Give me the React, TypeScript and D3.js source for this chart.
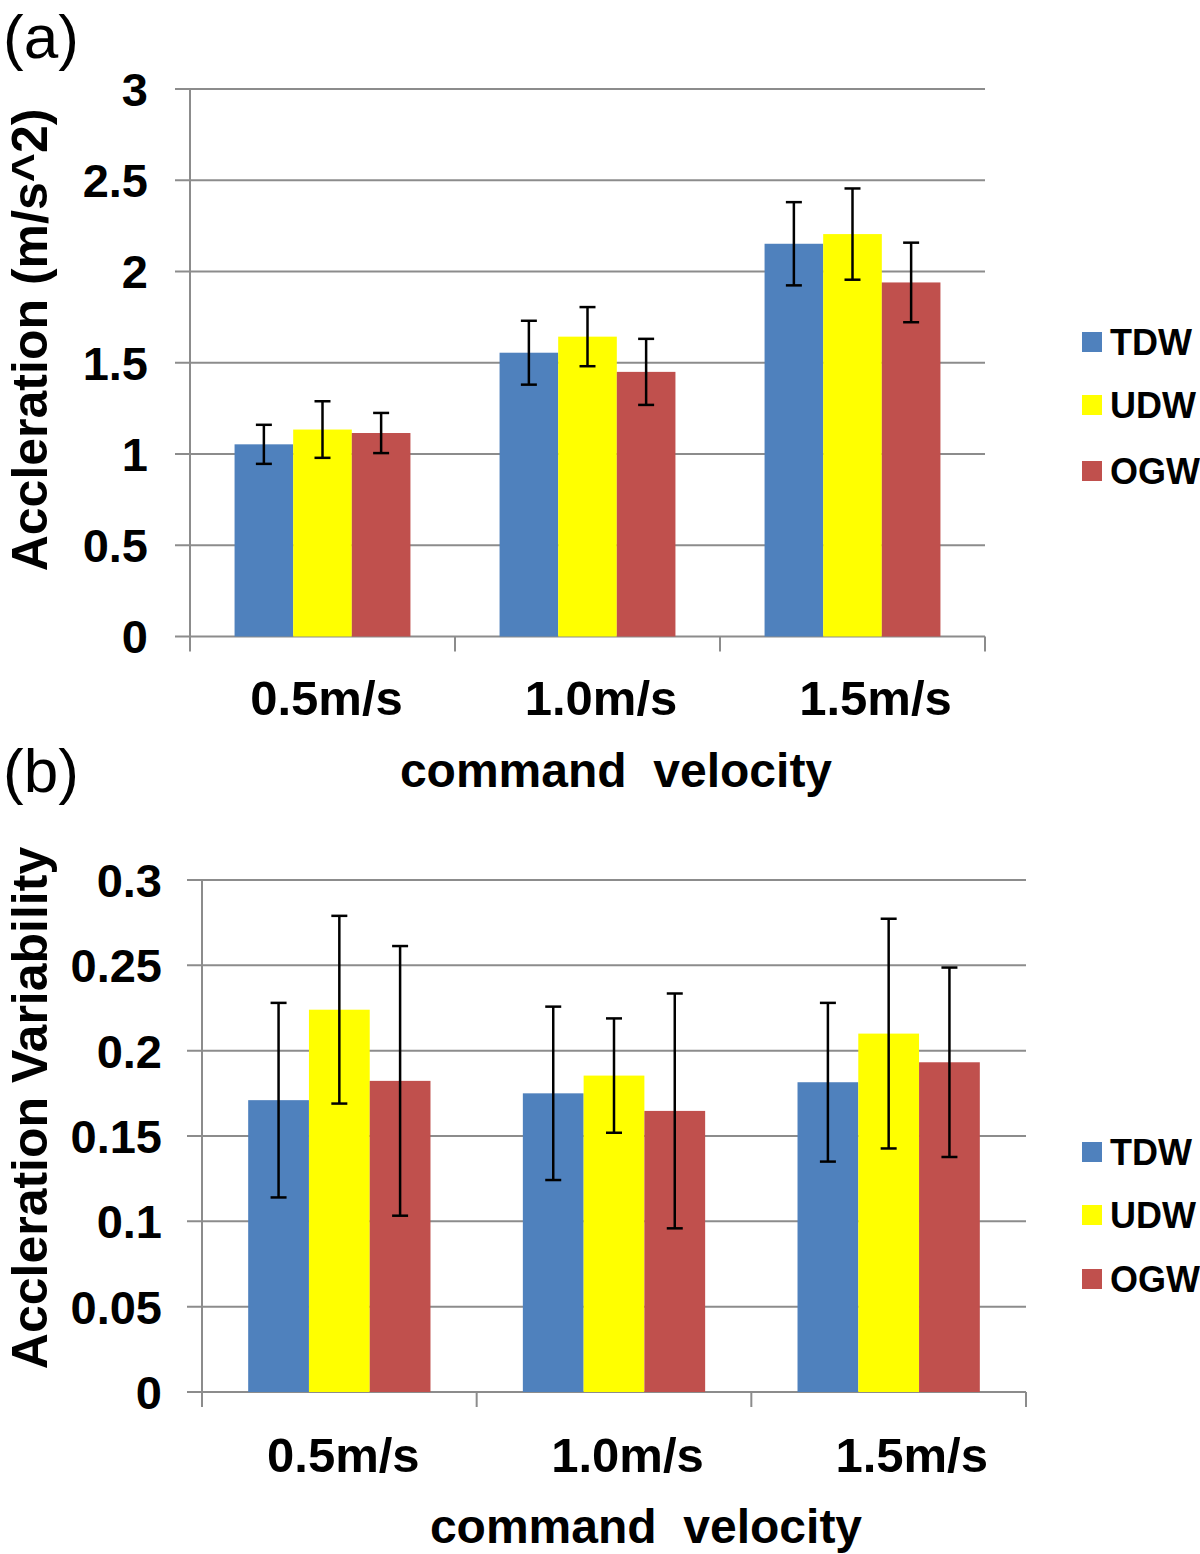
import * as d3 from 'd3';

const categories = ['0.5m/s', '1.0m/s', '1.5m/s'];
const series = ['TDW', 'UDW', 'OGW'];
const seriesColors = ['#4f81bd', '#ffff00', '#c0504d'];

// panel (a): mean acceleration and its error
const accelTDW = [1.053, 1.555, 2.152];
const accelUDW = [1.134, 1.643, 2.205];
const accelOGW = [1.115, 1.45, 1.94];
const accelErrTDW = [0.107, 0.175, 0.228];
const accelErrUDW = [0.155, 0.162, 0.25];
const accelErrOGW = [0.11, 0.181, 0.218];
const accelTicks = [0, 0.5, 1, 1.5, 2, 2.5, 3];
const accelTickLabels = ['0', '0.5', '1', '1.5', '2', '2.5', '3'];

// panel (b): acceleration variability and its error
const varTDW = [0.171, 0.175, 0.1815];
const varUDW = [0.224, 0.1854, 0.21];
const varOGW = [0.1823, 0.1647, 0.1932];
const varErrTDW = [0.057, 0.0508, 0.0465];
const varErrUDW = [0.055, 0.0335, 0.0673];
const varErrOGW = [0.079, 0.0688, 0.0555];
const varTicks = [0, 0.05, 0.1, 0.15, 0.2, 0.25, 0.3];
const varTickLabels = ['0', '0.05', '0.1', '0.15', '0.2', '0.25', '0.3'];

const FONT = '"Liberation Sans", Arial, Helvetica, sans-serif';
const GRID = '#8c8c8c';

interface PanelProps {
  tag: string;
  tagY: number;
  left: number;
  right: number;
  top: number;
  bottom: number;
  yMax: number;
  ticks: number[];
  tickLabels: string[];
  tickLabelX: number;
  means: number[][];
  errs: number[][];
  yTitle: string;
  yTitleY: number;
  xLabelY: number;
  xTitleX: number;
  xTitleY: number;
  legendY: number[];
}

function Panel(p: PanelProps) {
  const x0 = d3.scaleBand<string>().domain(categories).range([p.left, p.right]).padding(0);
  const x1 = d3.scaleBand<string>()
    .domain(series)
    .range([0, x0.bandwidth()])
    .paddingInner(0)
    .paddingOuter(0.76);
  const y = d3.scaleLinear().domain([0, p.yMax]).range([p.bottom, p.top]);
  const boundaries = [...categories.map(c => x0(c)!), p.right];

  return (
    <g fontFamily={FONT}>
      <text x={3} y={p.tagY} fontSize={62} fill="#000">{p.tag}</text>

      {/* gridlines + y ticks */}
      {p.ticks.map((t, i) => (
        <g key={t}>
          <line x1={p.left - 15} x2={p.right} y1={y(t)} y2={y(t)} stroke={GRID} strokeWidth={2} />
          <text x={p.tickLabelX} y={y(t)} dy="0.36em" textAnchor="end" fontSize={47} fontWeight="bold">
            {p.tickLabels[i]}
          </text>
        </g>
      ))}
      <line x1={p.left} x2={p.left} y1={p.top} y2={p.bottom + 15} stroke={GRID} strokeWidth={2} />
      {boundaries.slice(1).map((bx, i) => (
        <line key={i} x1={bx} x2={bx} y1={p.bottom} y2={p.bottom + 15} stroke={GRID} strokeWidth={2} />
      ))}

      {/* bars */}
      {categories.map((c, ci) => (
        <g key={c} transform={`translate(${x0(c)},0)`}>
          {series.map((s, si) => {
            const v = p.means[si][ci];
            return (
              <rect key={s} x={x1(s)} y={y(v)} width={x1.bandwidth()} height={y(0) - y(v)} fill={seriesColors[si]} />
            );
          })}
          {series.map((s, si) => {
            const v = p.means[si][ci];
            const e = p.errs[si][ci];
            const cx = x1(s)! + x1.bandwidth() / 2;
            return (
              <g key={s} stroke="#000" strokeWidth={2.5}>
                <line x1={cx} x2={cx} y1={y(v + e)} y2={y(v - e)} />
                <line x1={cx - 8} x2={cx + 8} y1={y(v + e)} y2={y(v + e)} />
                <line x1={cx - 8} x2={cx + 8} y1={y(v - e)} y2={y(v - e)} />
              </g>
            );
          })}
        </g>
      ))}

      {/* x labels (the source spreads them a little wider than the bands) */}
      {categories.map((c, ci) => (
        <text
          key={c}
          x={x0(c)! + x0.bandwidth() / 2 + 4 + ci * 9.5}
          y={p.xLabelY}
          textAnchor="middle"
          fontSize={49}
          fontWeight="bold"
        >
          {c}
        </text>
      ))}
      <text x={p.xTitleX} y={p.xTitleY} textAnchor="middle" fontSize={48} fontWeight="bold" style={{ whiteSpace: 'pre' }}>
        {'command  velocity'}
      </text>

      <text
        transform={`translate(47,${p.yTitleY}) rotate(-90)`}
        textAnchor="middle"
        fontSize={50}
        fontWeight="bold"
      >
        {p.yTitle}
      </text>

      {/* legend */}
      {series.map((s, si) => (
        <g key={s}>
          <rect x={1082} y={p.legendY[si] - 10} width={20} height={20} fill={seriesColors[si]} />
          <text x={1110} y={p.legendY[si]} dy="0.36em" fontSize={36} fontWeight="bold">{s}</text>
        </g>
      ))}
    </g>
  );
}

export default function App() {
  return (
    <div style={{ position: 'absolute', left: 0, top: 0 }}>
      <svg width={1200} height={1554} style={{ display: 'block', background: '#fff' }}>
        <Panel
          tag="(a)"
          tagY={58}
          left={190}
          right={985}
          top={89}
          bottom={636.5}
          yMax={3}
          ticks={accelTicks}
          tickLabels={accelTickLabels}
          tickLabelX={148}
          means={[accelTDW, accelUDW, accelOGW]}
          errs={[accelErrTDW, accelErrUDW, accelErrOGW]}
          yTitle="Accleration (m/s^2)"
          yTitleY={340}
          xLabelY={715}
          xTitleX={616}
          xTitleY={787}
          legendY={[342, 405, 471]}
        />
        <Panel
          tag="(b)"
          tagY={792}
          left={202}
          right={1026}
          top={880}
          bottom={1392}
          yMax={0.3}
          ticks={varTicks}
          tickLabels={varTickLabels}
          tickLabelX={162}
          means={[varTDW, varUDW, varOGW]}
          errs={[varErrTDW, varErrUDW, varErrOGW]}
          yTitle="Accleration Variability"
          yTitleY={1108}
          xLabelY={1472}
          xTitleX={646}
          xTitleY={1543}
          legendY={[1152, 1215, 1279]}
        />
      </svg>
    </div>
  );
}
